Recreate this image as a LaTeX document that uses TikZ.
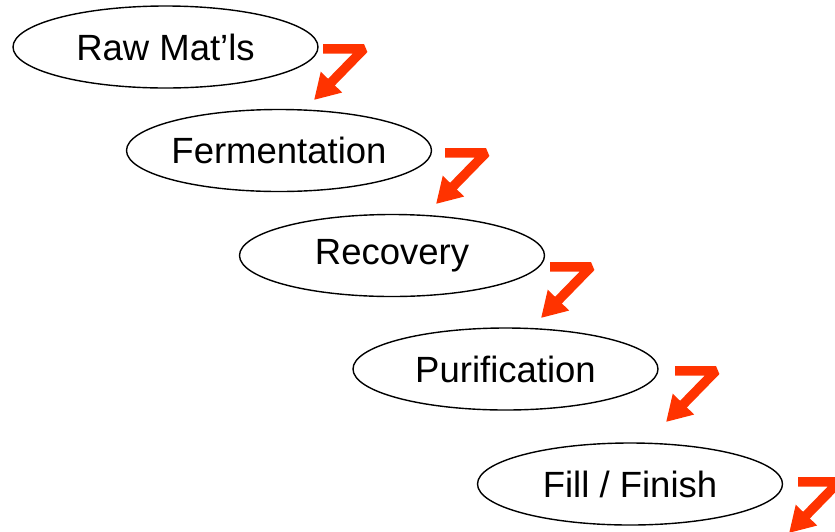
\documentclass[tikz,border=0pt]{standalone}
\usepackage{fontspec}
\setmainfont{Liberation Sans}
\usetikzlibrary{shapes.geometric,arrows.meta,calc}
\definecolor{zred}{RGB}{255,51,0}
\tikzset{
  stage/.style={ellipse, draw=black, line width=1.4pt, inner sep=0pt,
    minimum width=305pt, minimum height=82pt,
    font=\fontsize{36.5}{40}\selectfont},
  zarrow/.style={draw=zred, line width=9.5pt, line join=bevel,
    -{Triangle[length=25pt,width=28pt]}, fill=none}
}
\begin{document}
\begin{tikzpicture}[x=1pt,y=-1pt]
\useasboundingbox (0,0) rectangle (835,531);
\node[stage] (raw) at (165.5,47) {Raw Mat’ls};
\node[stage] (fer) at (279,150.5) {Fermentation};
\node[stage] (rec) at (392,255.5) {Recovery};
\node[stage] (pur) at (505.5,369) {Purification};
\node[stage] (fil) at (630,484) {Fill / Finish};
\coordinate (s1) at (323,44);
\coordinate (s2) at (445,148);
\coordinate (s3) at (550,262);
\coordinate (s4) at (675,366);
\coordinate (s5) at (798,477);
\foreach \s in {s1,s2,s3,s4,s5}{
  \draw[zarrow] ($(\s)+(0,4.75)$) -- ($(\s)+(41,4.75)$) -- ($(\s)+(-9,56)$);
}
\end{tikzpicture}
\end{document}
